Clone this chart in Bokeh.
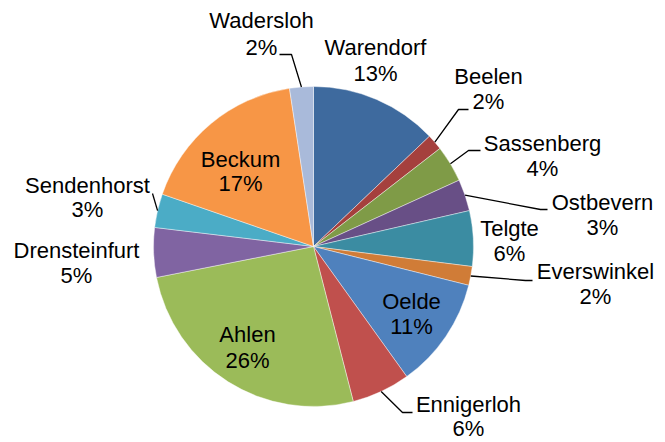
import math
from bokeh.plotting import figure
from bokeh.models import Range1d, ColumnDataSource
from bokeh.core.properties import value
from bokeh.embed import file_html
from bokeh.resources import INLINE

# ---- data ----
towns = ["Warendorf", "Beelen", "Sassenberg", "Ostbevern", "Telgte", "Everswinkel",
         "Oelde", "Ennigerloh", "Ahlen", "Drensteinfurt", "Sendenhorst", "Beckum", "Wadersloh"]
shares = [12.9, 1.6, 3.7, 3.2, 5.6, 1.9, 11.2, 5.9, 25.9, 5.0, 3.4, 17.3, 2.4]
pct_labels = ["13%", "2%", "4%", "3%", "6%", "2%", "11%", "6%", "26%", "5%", "3%", "17%", "2%"]
colors = ["#3E6A9E", "#A5403D", "#7F9B47", "#684F86", "#3B8CA2", "#D07C37",
          "#4F81BD", "#C0504D", "#9BBB59", "#8064A2", "#4BACC6", "#F79646", "#A9BADA"]

# ---- layout (image pixel coords, y down) ----
W, H = 665, 442
CX, CY, R = 313, 246, 160
TEXT_SHIFT = 7  # renderer places baselines a little low
label_pos = {  # center x, baseline of name line, baseline of percent line
    "Warendorf": (375, 54, 80),
    "Beelen": (488, 83, 108),
    "Sassenberg": (542, 150, 175),
    "Ostbevern": (602, 209, 234),
    "Telgte": (509, 235, 260),
    "Everswinkel": (595, 278, 303),
    "Oelde": (411, 308, 333),
    "Ennigerloh": (468, 411, 435),
    "Ahlen": (247, 341, 367),
    "Drensteinfurt": (76, 257, 282),
    "Sendenhorst": (87, 192, 216),
    "Beckum": (240, 166, 190),
    "Wadersloh": (261, 27, 54),
}
leaders = {  # elbow point, end point
    "Wadersloh": ((291, 54), (279, 54)),
    "Beelen": ((458, 109), (468, 109)),
    "Sassenberg": ((468, 150), (480, 150)),
    "Ostbevern": ((540, 209), (547, 209)),
    "Everswinkel": ((525, 280), (532, 280)),
    "Ennigerloh": ((402, 412), (412, 412)),
    "Sendenhorst": ((152, 193), (152, 193)),
}

def Y(y):
    return H - y

p = figure(width=W, height=H, output_backend="svg", toolbar_location=None,
           x_range=Range1d(0, W), y_range=Range1d(0, H),
           min_border=0, outline_line_color=None)
p.axis.visible = False
p.grid.visible = False
p.background_fill_color = "white"
p.border_fill_color = "white"

total = sum(shares)
starts, ends, mids = [], [], []
cum = 0.0
for s in shares:
    a0 = math.pi / 2 - 2 * math.pi * cum / total
    cum += s
    a1 = math.pi / 2 - 2 * math.pi * cum / total
    starts.append(a0)
    ends.append(a1)
    mids.append((a0 + a1) / 2)

src = ColumnDataSource(dict(start=starts, end=ends, color=colors, town=towns))
p.wedge(x=CX, y=Y(CY), radius=R, start_angle="start", end_angle="end",
        direction="clock", fill_color="color", line_color="white",
        line_width=0.6, line_alpha=0.7, source=src)

# leader lines
xs, ys = [], []
for i, t in enumerate(towns):
    if t in leaders:
        sx = CX + R * math.cos(mids[i])
        sy = Y(CY) + R * math.sin(mids[i])
        (ex, ey), (fx, fy) = leaders[t]
        xs.append([sx, ex, fx])
        ys.append([sy, Y(ey), Y(fy)])
p.multi_line(xs=xs, ys=ys, line_color="black", line_width=1.3)

lx = [label_pos[t][0] for t in towns]
ly1 = [Y(label_pos[t][1] - TEXT_SHIFT) for t in towns]
ly2 = [Y(label_pos[t][2] - TEXT_SHIFT) for t in towns]
font = value("Liberation Sans")
p.text(x=lx, y=ly1, text=towns, text_font=font, text_font_size="22px",
       text_align="center", text_baseline="alphabetic", text_color="black")
p.text(x=lx, y=ly2, text=pct_labels, text_font=font, text_font_size="22px",
       text_align="center", text_baseline="alphabetic", text_color="black")

open("out.html", "w").write(file_html(p, INLINE))
